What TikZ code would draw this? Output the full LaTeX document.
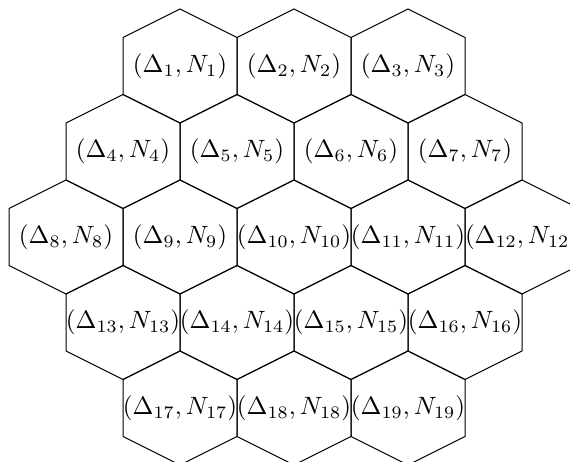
\documentclass[tikz,border=0pt]{standalone}
\usepackage{amsmath}
\usepackage{tikz}
\tikzset{
  cellhex/.style={draw=black, line width=.4pt, line join=miter},
  celllabel/.style={inner sep=1pt, align=center}
}
\begin{document}
\begin{tikzpicture}[x=.8cm, y=.8cm]
  \useasboundingbox (-5.158,-3.947) rectangle (4.842,4.158);
  \clip (-5.158,-3.947) rectangle (4.842,4.158);
  \foreach \i/\x/\y in {1/-2/3, 2/0/3, 3/2/3,
      4/-3/1.5, 5/-1/1.5, 6/1/1.5, 7/3/1.5,
      8/-4/0, 9/-2/0, 10/0/0, 11/2/0, 12/4/0,
      13/-3/-1.5, 14/-1/-1.5, 15/1/-1.5, 16/3/-1.5,
      17/-2/-3, 18/0/-3, 19/2/-3} {
    \draw[cellhex] (\x,\y) ++(0,1) -- ++(1,-.5) -- ++(0,-1) -- ++(-1,-.5)
      -- ++(-1,.5) -- ++(0,1) -- cycle;
    \node[celllabel] (c\i) at (\x,\y) {\((\Delta_{\i},N_{\i})\)};
  }
\end{tikzpicture}
\end{document}
